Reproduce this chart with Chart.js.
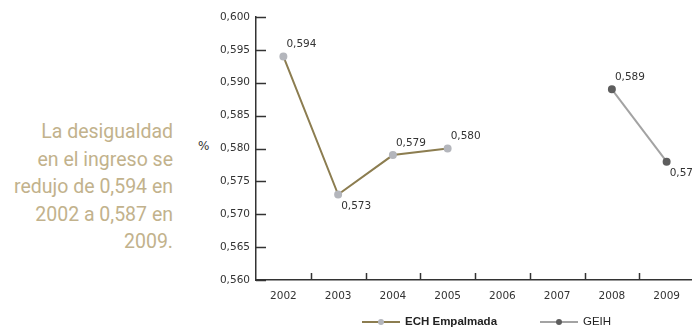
<!DOCTYPE html>
<html>
<head>
<meta charset="utf-8">
<script src="https://cdn.jsdelivr.net/npm/chart.js@4/dist/chart.umd.min.js"></script>
<style>
  html, body { margin: 0; padding: 0; background: #fff; overflow: hidden; }
  body { width: 692px; height: 333px; position: relative; }
  #wrap { position: absolute; left: 0; top: 0; width: 700px; height: 333px; }
  #note {
    position: absolute; left: 0; top: 118px; width: 173px;
    text-align: right; color: #c2b28c;
    font-family: "Liberation Sans Narrow", "Roboto", sans-serif;
    font-size: 19.5px; line-height: 27.5px;
  }
  #pct {
    position: absolute; left: 198px; top: 139px;
    font-family: "DejaVu Sans", sans-serif; font-size: 12px; color: #333;
  }
</style>
</head>
<body>
<div id="note">La desigualdad<br>en el ingreso se<br>redujo de 0,594 en<br>2002 a 0,587 en<br>2009.</div>
<div id="pct">%</div>
<div id="wrap"><canvas id="c" width="700" height="333"></canvas></div>
<script>
// Gini coefficient by year, two survey series
const years = ['2002', '2003', '2004', '2005', '2006', '2007', '2008', '2009'];
const echEmpalmada = [0.594, 0.573, 0.579, 0.580, null, null, null, null];
const geih = [null, null, null, null, null, null, 0.589, 0.578];
const yTicks = [0.560, 0.565, 0.570, 0.575, 0.580, 0.585, 0.590, 0.595, 0.600];
// label placement per point: 1 = above, -1 = below
const echLabelSide = [1, -1, 1, 1, 0, 0, 0, 0];
const geihLabelSide = [0, 0, 0, 0, 0, 0, 1, -1];

const fmt = v => v.toFixed(3).replace('.', ',');

const axisColor = '#333333';

const decorPlugin = {
  id: 'decor',
  afterDatasetsDraw(chart) {
    const ctx = chart.ctx;
    const x = chart.scales.x, y = chart.scales.y;
    const area = chart.chartArea;
    ctx.save();
    ctx.strokeStyle = axisColor;
    ctx.lineWidth = 1.5;
    // inward tick marks on the value axis
    y.ticks.forEach(t => {
      const py = Math.round(y.getPixelForValue(t.value)) + 0.5;
      ctx.beginPath();
      ctx.moveTo(area.left, py);
      ctx.lineTo(area.left + 10, py);
      ctx.stroke();
    });
    // category boundary tick marks on the year axis
    for (let i = 0; i < years.length - 1; i++) {
      const px = Math.round((x.getPixelForValue(i) + x.getPixelForValue(i + 1)) / 2) + 0.5;
      ctx.beginPath();
      ctx.moveTo(px, area.bottom);
      ctx.lineTo(px, area.bottom - 7);
      ctx.stroke();
    }
    // value labels
    ctx.font = '10.5px "DejaVu Sans", sans-serif';
    ctx.fillStyle = '#333';
    ctx.textBaseline = 'middle';
    ctx.textAlign = 'left';
    const sides = [echLabelSide, geihLabelSide];
    chart.data.datasets.forEach((ds, di) => {
      const meta = chart.getDatasetMeta(di);
      ds.data.forEach((v, i) => {
        if (v === null) return;
        const pt = meta.data[i];
        const s = sides[di][i];
        const dy = s > 0 ? -12 : 12;
        ctx.fillText(fmt(v), pt.x + 3, pt.y + dy);
      });
    });
    // legend
    const ly = 322;
    const items = [
      { ds: chart.data.datasets[0], x0: area.left + 106, bold: true },
      { ds: chart.data.datasets[1], x0: area.left + 284, bold: false }
    ];
    items.forEach(it => {
      ctx.strokeStyle = it.ds.borderColor;
      ctx.lineWidth = 2;
      ctx.beginPath();
      ctx.moveTo(it.x0, ly);
      ctx.lineTo(it.x0 + 38, ly);
      ctx.stroke();
      ctx.fillStyle = it.ds.pointBackgroundColor;
      ctx.beginPath();
      ctx.arc(it.x0 + 19, ly, 3, 0, Math.PI * 2);
      ctx.fill();
      ctx.fillStyle = '#222';
      ctx.font = (it.bold ? 'bold ' : '') + '11.5px "Liberation Sans Narrow", "Liberation Sans", sans-serif';
      ctx.textBaseline = 'middle';
      ctx.fillText(it.ds.label, it.x0 + 43, ly);
    });
    ctx.restore();
  }
};

new Chart(document.getElementById('c'), {
  type: 'line',
  data: {
    labels: years,
    datasets: [
      {
        label: 'ECH Empalmada',
        data: echEmpalmada,
        borderColor: '#8c7d50',
        borderWidth: 2,
        pointBackgroundColor: '#b4b6bc',
        pointBorderColor: '#b4b6bc',
        pointRadius: 3,
        spanGaps: false
      },
      {
        label: 'GEIH',
        data: geih,
        borderColor: '#a3a3a3',
        borderWidth: 2,
        pointBackgroundColor: '#5e5e5e',
        pointBorderColor: '#5e5e5e',
        pointRadius: 3,
        spanGaps: false
      }
    ]
  },
  options: {
    responsive: false,
    animation: false,
    layout: { padding: { top: 17, right: 4, left: 0, bottom: 0 } },
    plugins: { legend: { display: false }, tooltip: { enabled: false } },
    scales: {
      x: {
        offset: true,
        grid: { display: false, drawTicks: false },
        border: { display: true, color: axisColor, width: 1.5 },
        ticks: {
          color: '#333',
          font: { family: 'DejaVu Sans', size: 10.5 },
          padding: 10,
          maxRotation: 0
        },
        afterFit(s) { s.height = 53; }
      },
      y: {
        min: 0.560,
        max: 0.600,
        afterBuildTicks(s) { s.ticks = yTicks.map(v => ({ value: v })); },
        grid: { display: false, drawTicks: false },
        border: { display: true, color: axisColor, width: 1.5 },
        ticks: {
          color: '#333',
          font: { family: 'DejaVu Sans', size: 10.5 },
          padding: 6,
          callback: v => fmt(v)
        },
        afterFit(s) { s.width = 256; }
      }
    }
  },
  plugins: [decorPlugin]
});
</script>
</body>
</html>
